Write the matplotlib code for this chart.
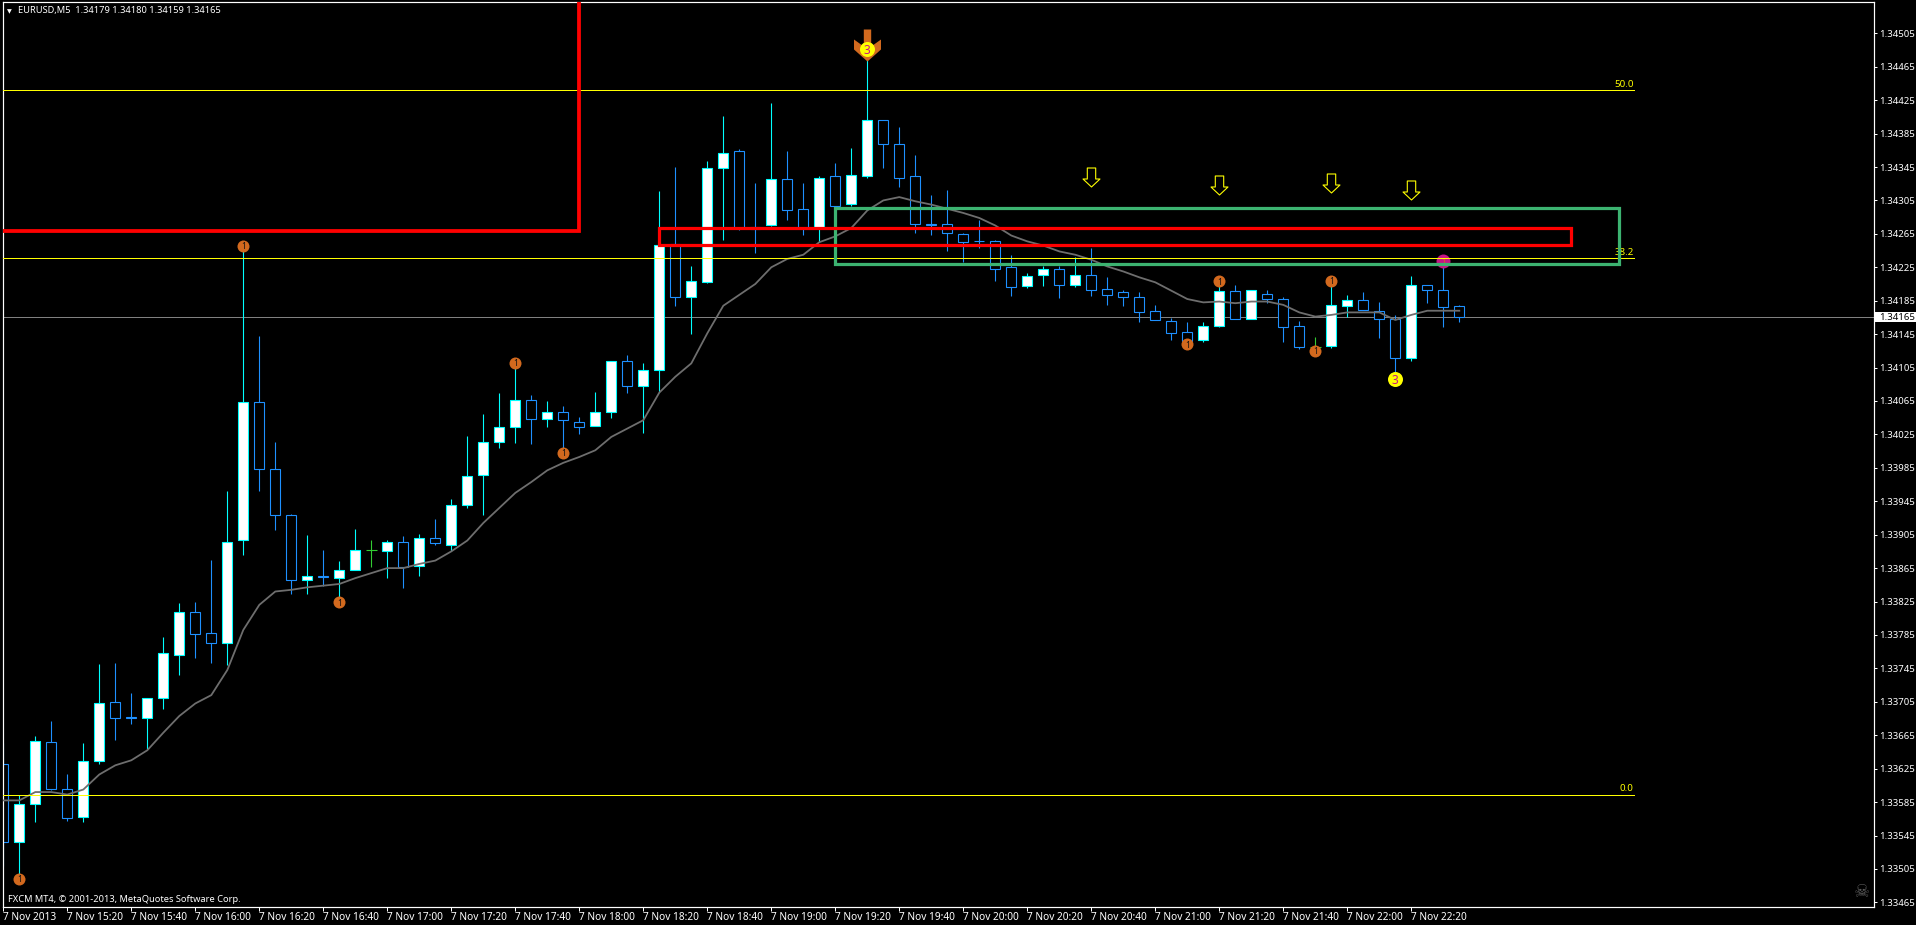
import matplotlib
matplotlib.use("Agg")
import matplotlib.pyplot as plt
from matplotlib.patches import Rectangle
from matplotlib.path import Path

W, H = 1916, 925
PX = 0.72  # one pixel in points at 100 dpi
plt.rcParams['font.family'] = ['Noto Sans', 'DejaVu Sans']

# prices in points (price * 1e5)
opens = [133631,133537,133583,133657,133601,133567,133634,133705,133687,133686,
         133709,133761,133813,133787,133775,133899,134064,133983,133929,133851,
         133856,133853,133863,133887,133886,133896,133867,133901,133893,133941,
         133976,134016,134034,134066,134044,134052,134040,134035,134052,134113,
         134083,134102,134253,134189,134207,134344,134364,134273,134276,134331,
         134295,134272,134334,134301,134334,134401,134373,134334,134277,134277,
         134265,134257,134256,134225,134202,134216,134223,134204,134216,134199,
         134195,134190,134173,134161,134148,134138,134155,134197,134163,134193,
         134187,134155,134130,134131,134179,134186,134173,134163,134117,134204,
         134198,134179]
highs = [133656,133593,133664,133682,133619,133656,133750,133751,133716,133710,
         133783,133823,133824,133875,133957,134251,134143,134016,133930,133905,
         133887,133873,133912,133899,133899,133903,133906,133924,133948,134023,
         134050,134074,134112,134072,134065,134059,134046,134076,134113,134120,
         134110,134316,134345,134226,134352,134406,134366,134326,134422,134364,
         134326,134334,134350,134368,134473,134401,134393,134359,134311,134317,
         134266,134282,134258,134240,134218,134227,134227,134237,134248,134213,
         134198,134195,134180,134164,134160,134160,134209,134204,134198,134198,
         134189,134161,134141,134209,134192,134195,134183,134168,134215,134204,
         134227,134180]
lows = [133508,133498,133561,133600,133562,133561,133630,133659,133678,133649,
        133696,133737,133757,133751,133749,133881,133957,133911,133834,133834,
        133844,133830,133863,133866,133853,133841,133856,133893,133885,133937,
        133929,134009,134015,134014,134034,134009,134026,134035,134045,134075,
        134027,134076,134179,134145,134206,134258,134270,134242,134274,134281,
        134264,134255,134297,134298,134332,134344,134321,134266,134264,134245,
        134231,134248,134208,134191,134200,134202,134188,134201,134191,134180,
        134179,134160,134162,134138,134131,134135,134154,134163,134163,134182,
        134136,134127,134123,134128,134166,134174,134140,134098,134113,134182,
        134154,134159]
closes = [133537,133583,133658,133601,133566,133634,133704,133686,133686,133709,
          133764,133813,133786,133775,133896,134064,133983,133929,133851,133856,
          133854,133863,133887,133887,133896,133866,133901,133895,133941,133975,
          134016,134034,134066,134044,134052,134042,134034,134052,134113,134083,
          134102,134252,134189,134208,134344,134362,134272,134271,134331,134294,
          134272,134332,134298,134335,134401,134373,134332,134277,134276,134266,
          134255,134256,134223,134201,134215,134223,134204,134216,134198,134192,
          134190,134171,134162,134146,134137,134155,134197,134163,134198,134187,
          134154,134129,134130,134180,134186,134174,134163,134116,134204,134198,
          134178,134165]
ma_line = [133587,133587,133597,133597,133594,133600,133618,133629,133635,133647,
           133668,133688,133703,133713,133743,133791,133821,133837,133839,133842,
           133844,133846,133853,133859,133865,133865,133870,133874,133885,133898,
           133919,133937,133955,133968,133982,133991,133998,134006,134022,134032,
           134042,134075,134094,134110,134146,134179,134192,134205,134225,134235,
           134240,134255,134262,134272,134293,134305,134309,134304,134300,134295,
           134290,134284,134275,134263,134256,134251,134244,134240,134234,134226,
           134220,134213,134207,134197,134187,134183,134184,134182,134184,134184,
           134180,134171,134166,134168,134171,134171,134171,134162,134168,134173,
           134173,134173]

y_tick_pts = [134505,134465,134425,134385,134345,134305,134265,134225,134185,
              134145,134105,134065,134025,133985,133945,133905,133865,133825,
              133785,133745,133705,133665,133625,133585,133545,133505,133465]
x_tick_idx = [0,4,8,12,16,20,24,28,32,36,40,44,48,52,56,60,64,68,72,76,80,84,88]
x_tick_labels = ['7 Nov 2013','7 Nov 15:20','7 Nov 15:40','7 Nov 16:00','7 Nov 16:20',
                 '7 Nov 16:40','7 Nov 17:00','7 Nov 17:20','7 Nov 17:40','7 Nov 18:00',
                 '7 Nov 18:20','7 Nov 18:40','7 Nov 19:00','7 Nov 19:20','7 Nov 19:40',
                 '7 Nov 20:00','7 Nov 20:20','7 Nov 20:40','7 Nov 21:00','7 Nov 21:20',
                 '7 Nov 21:40','7 Nov 22:00','7 Nov 22:20']

fibo_levels = [134437, 134236, 133594]
fibo_labels = ['50.0', '38.2', '0.0']
bid = 134165

one_idx = [1, 15, 21, 32, 35, 74, 76, 82, 83]
one_pts = [133493, 134251, 133824, 134111, 134003, 134133, 134208, 134125, 134209]
three_idx, three_pts = 87, 134091
top_three_idx, top_three_pts = 54, 134486
top_arrow_pts = 134491
pink_idx, pink_pts = 90, 134232
arrow_idx = [68, 76, 83, 88]
arrow_pts = [134333, 134324, 134326, 134318]

# zones: (left index, right index, lower price, upper price)
red_big = (-5, 36, 134268, 134700)
red_small = (41, 98, 134252, 134272)
green_box = (52, 101, 134229, 134296)
fibo_end = 101.9

BLUE, CYAN, LIME = '#1E90FF', '#00FFFF', '#32CD32'

fig = plt.figure(figsize=(W/100, H/100), dpi=100, facecolor='black')
L, R, T, B = 2.5, 1873.7, 2.3, 907.0
ax = fig.add_axes([L/W, 1-B/H, (R-L)/W, (B-T)/H], facecolor='black')
ax.set_xlim((L-3.3)/16, (R-3.3)/16)
ax.set_ylim(134505-(B-33.3)*1.1967, 134505+(33.3-T)*1.1967)
for s in ax.spines.values():
    s.set_color('white'); s.set_linewidth(1.2*PX)

for i, (o, h, l, c) in enumerate(zip(opens, highs, lows, closes)):
    up, flat = c > o, c == o
    col = LIME if flat else (CYAN if up else BLUE)
    ax.plot([i, i], [l, h], color=col, lw=1.1*PX, zorder=2, solid_capstyle='butt')
    if flat:
        ax.plot([i-0.33, i+0.33], [o, o], color=col, lw=1.1*PX, zorder=2.1, solid_capstyle='butt')
    else:
        ax.bar(i, abs(c-o), bottom=min(o, c), width=0.62,
               facecolor='white' if up else 'black', edgecolor=col,
               linewidth=1.1*PX, zorder=2.1)

ax.plot(range(len(ma_line)), ma_line, color='#6e6e6e', lw=1.8*PX, zorder=3.5)

# round signal markers
ax.plot(one_idx, one_pts, 'o', ms=12*PX, color='#D2691E', mew=0, zorder=3)
for i, p in zip(one_idx, one_pts):
    ax.text(i, p, '1', color='#111111', fontsize=6, ha='center', va='center_baseline', zorder=3.1)
ax.plot([three_idx], [three_pts], 'o', ms=15*PX, color='#FFFF00', mew=0, zorder=3)
ax.text(three_idx, three_pts, '3', color='#C71585', fontsize=8.5, ha='center', va='center_baseline', zorder=3.1)
ax.plot([pink_idx], [pink_pts], 'o', ms=14*PX, color='#C71585', mew=0, zorder=3)
ax.text(pink_idx, pink_pts, '1', color='#D2691E', fontsize=6, ha='center', va='center_baseline', zorder=3.1)

# large orange arrow + yellow "3"
big = Path([(-3.7,16),(3.7,16),(3.7,-1),(13.5,6),(13.5,-4),(0,-16),(-13.5,-4),(-13.5,6),(-3.7,-1),(-3.7,16)], closed=True)
ax.plot([top_three_idx], [top_arrow_pts], marker=big, ms=32*PX, color='#D2691E', mew=0, zorder=3)
ax.plot([top_three_idx], [top_three_pts], 'o', ms=15*PX, color='#FFFF00', mew=0, zorder=3.2)
ax.text(top_three_idx, top_three_pts, '3', color='#C71585', fontsize=8.5, ha='center', va='center_baseline', zorder=3.3)

# hollow yellow arrows
hollow = Path([(-4.2,9.5),(4.2,9.5),(4.2,-1.5),(8.5,-1.5),(0,-9.5),(-8.5,-1.5),(-4.2,-1.5),(-4.2,9.5)], closed=True)
ax.plot(arrow_idx, arrow_pts, ls='none', marker=hollow, ms=19*PX, mfc='black', mec='#FFFF00', mew=1.1*PX, zorder=3)

# horizontal levels
for lev, lab in zip(fibo_levels, fibo_labels):
    ax.plot([ax.get_xlim()[0], fibo_end], [lev, lev], color='#FFFF00', lw=1.0*PX, zorder=4)
    ax.annotate(lab, xy=(fibo_end, lev), xytext=(0, 1.0), textcoords='offset points',
                color='#FFFF00', fontsize=7, ha='right', va='bottom', zorder=4)
ax.axhline(bid, color='#808080', lw=1.0*PX, zorder=1.5)

# zones
for (x0, x1, y0, y1), col, lw in ((red_big, '#FF0000', 3.8), (red_small, '#FF0000', 3.2), (green_box, '#3CB371', 3.2)):
    ax.add_patch(Rectangle((x0, y0), x1-x0, y1-y0, fill=False, edgecolor=col,
                           linewidth=lw*PX, joinstyle='miter', zorder=5 if col == '#FF0000' else 4.5))

# axes
ax.yaxis.tick_right()
ax.set_yticks(y_tick_pts)
ax.set_yticklabels([f'{p/1e5:.5f}' for p in y_tick_pts], color='white', fontsize=6.9)
ax.set_xticks(x_tick_idx)
ax.set_xticklabels(x_tick_labels, color='white', fontsize=7.3, ha='left')
ax.tick_params(axis='y', length=3*PX, width=1*PX, color='white', pad=2*PX)
ax.tick_params(axis='x', length=4*PX, width=1*PX, color='white', pad=0.6*PX)

# bid tag
tag = Rectangle((1.0006, bid-6), 0.0225, 13, facecolor='white', edgecolor='none',
                transform=ax.get_yaxis_transform(), clip_on=False, zorder=6)
ax.add_patch(tag)
ax.annotate(f'{bid/1e5:.5f}', xy=(1, bid), xycoords=('axes fraction', 'data'),
            xytext=(5.3*PX, 0), textcoords='offset points', color='black', fontsize=6.9,
            ha='left', va='center', zorder=7)

# captions
fig.text(18/W, 1-11/H, 'EURUSD,M5  1.34179 1.34180 1.34159 1.34165', color='white',
         fontsize=6.7, ha='left', va='center')
fig.text(9/W, 1-11.5/H, '\u25BC', color='white', fontsize=4.5, ha='center', va='center',
         family=['DejaVu Sans'])
fig.text(8/W, 1-900/H, 'FXCM MT4, \u00A9 2001-2013, MetaQuotes Software Corp.', color='white',
         fontsize=6.7, ha='left', va='center')
fig.text(1862/W, 1-892/H, '\u2620', color='#5a5a5a', fontsize=13, ha='center', va='center',
         family=['DejaVu Sans'])

fig.savefig('out.png', dpi=100, facecolor='black')
